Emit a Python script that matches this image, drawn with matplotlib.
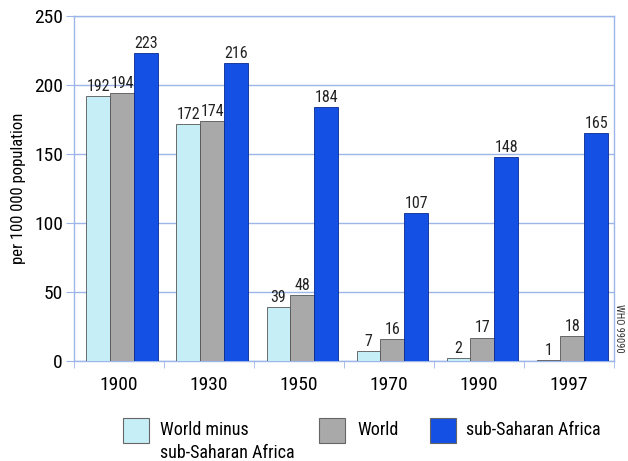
import numpy as np
import matplotlib.pyplot as plt
from matplotlib.patches import Rectangle

plt.rcParams['font.family'] = ['Liberation Sans Narrow', 'Roboto Condensed', 'Roboto', 'DejaVu Sans']

years = ['1900', '1930', '1950', '1970', '1990', '1997']
world_minus = [192, 172, 39, 7, 2, 1]
world = [194, 174, 48, 16, 17, 18]
ssa = [223, 216, 184, 107, 148, 165]

c_light = '#c6eef7'
c_grey = '#a9a9a9'
c_blue = '#1450e4'
c_grid = '#9db6ea'

fig = plt.figure(figsize=(6.28, 4.61), dpi=100)
ax = fig.add_axes([0.118, 0.217, 0.860, 0.748])

x = np.arange(len(years))
w = 0.265
off = 0.035
b1 = ax.bar(x - w + off, world_minus, w, color=c_light, edgecolor='#555555', linewidth=0.6, zorder=3)
b2 = ax.bar(x + off, world, w, color=c_grey, edgecolor='#555555', linewidth=0.6, zorder=3)
b3 = ax.bar(x + w + off, ssa, w, color=c_blue, edgecolor='#0a2a90', linewidth=0.6, zorder=3)
for b in (b1, b2, b3):
    ax.bar_label(b, padding=1.5, fontsize=11.5, color='#222222')

ax.set_xlim(-0.5, len(years) - 0.5)
ax.set_ylim(0, 250)
ax.set_yticks([0, 50, 100, 150, 200, 250])
ax.yaxis.grid(True, color=c_grid, linewidth=1.0, zorder=0)
ax.set_axisbelow(True)

ax.set_xticks(x)
ax.set_xticklabels(years, fontsize=14)
ax.set_xticks(np.arange(len(years) + 1) - 0.5, minor=True)
ax.tick_params(axis='x', which='major', length=0, pad=11)
ax.tick_params(axis='x', which='minor', length=5, color=c_grid, direction='out')
ax.tick_params(axis='y', length=6, color=c_grid, labelsize=14, pad=2)

for s in ax.spines.values():
    s.set_color(c_grid)
    s.set_linewidth(1.0)

ax.set_ylabel('per 100 000 population', fontsize=12, labelpad=6)

# legend drawn by hand so the swatch lines up with the first text line
W, H = 628, 461
def swatch(px, color):
    fig.add_artist(Rectangle((px / W, 1 - 443 / H), 26 / W, 25 / H,
                             transform=fig.transFigure, facecolor=color,
                             edgecolor='#666666', linewidth=0.8))
swatch(123, c_light)
swatch(319, c_grey)
swatch(430, c_blue)
fig.text(160 / W, 1 - 430 / H, 'World minus', fontsize=13, va='center')
fig.text(160 / W, 1 - 453 / H, 'sub-Saharan Africa', fontsize=13, va='center')
fig.text(357 / W, 1 - 430 / H, 'World', fontsize=13, va='center')
fig.text(466 / W, 1 - 430 / H, 'sub-Saharan Africa', fontsize=13, va='center')

fig.text(619 / W, 1 - 328 / H, 'WHO 99090', fontsize=7.5, rotation=-90,
         ha='center', va='center', color='#333333')

fig.savefig('out.png', dpi=100)
